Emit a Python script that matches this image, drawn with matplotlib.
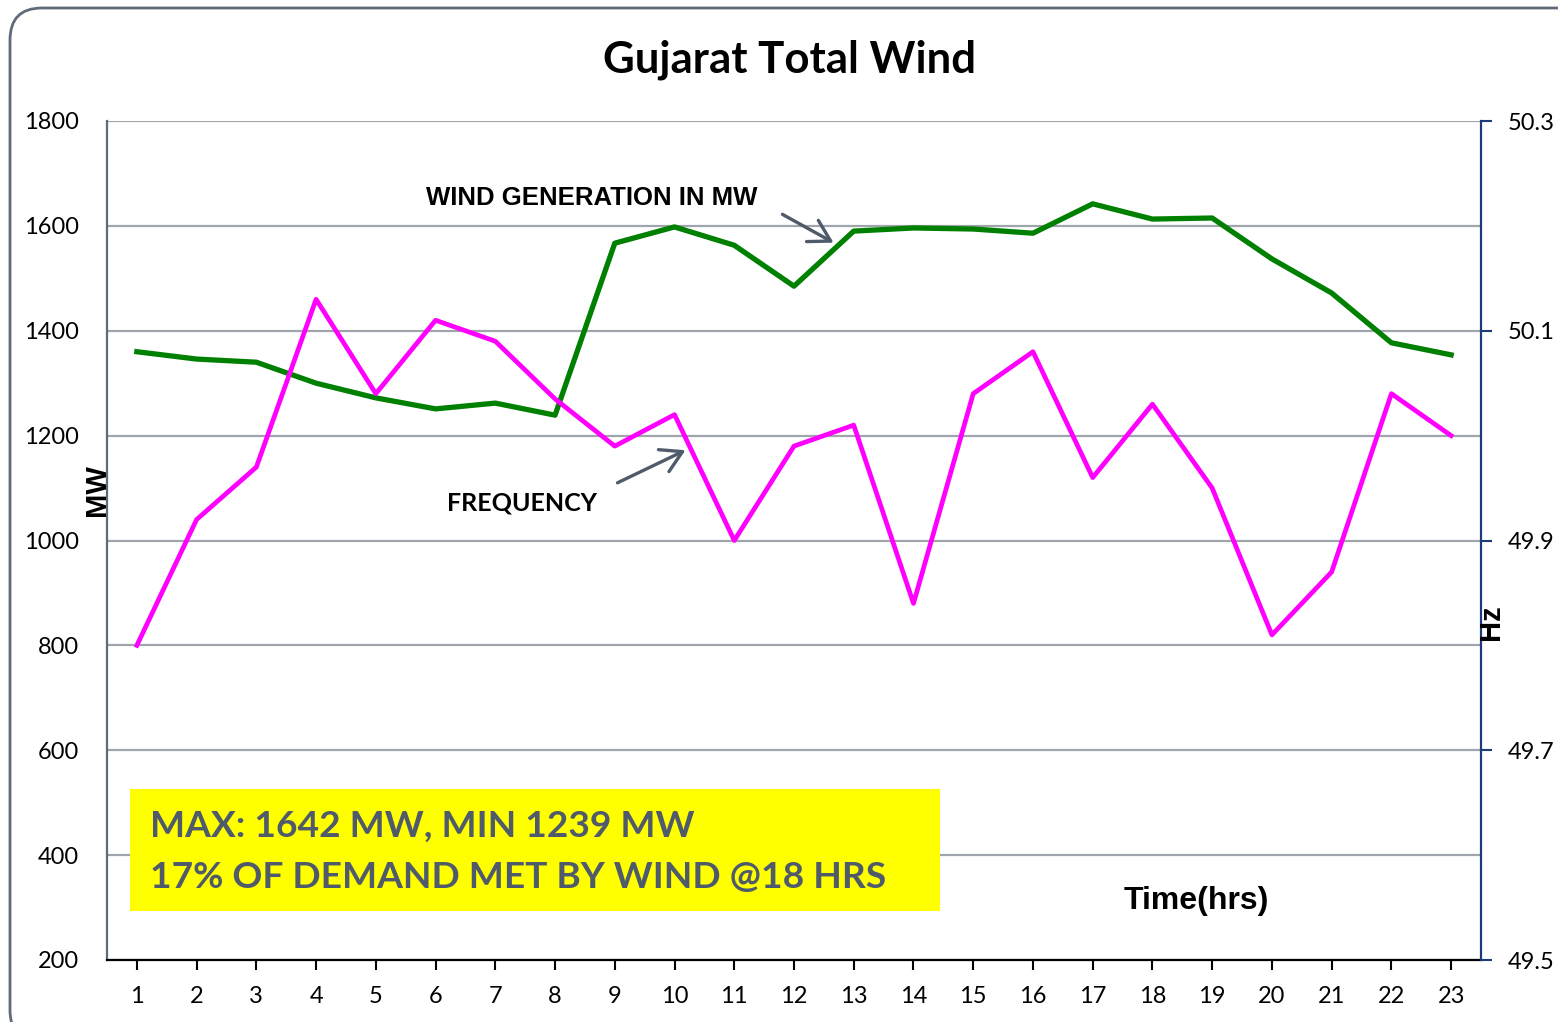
import matplotlib
matplotlib.use('Agg')
import matplotlib.pyplot as plt
from matplotlib.patches import FancyBboxPatch, Rectangle, FancyArrowPatch

# hourly values
hours = list(range(1, 24))
wind_mw = [1360, 1346, 1340, 1300, 1272, 1251, 1262, 1239, 1567, 1598, 1563, 1485,
           1590, 1596, 1594, 1586, 1642, 1613, 1615, 1537, 1472, 1377, 1354]
freq_hz = [49.80, 49.92, 49.97, 50.13, 50.04, 50.11, 50.09, 50.035, 49.99, 50.02, 49.90, 49.99,
           50.01, 49.84, 50.04, 50.08, 49.96, 50.03, 49.95, 49.81, 49.87, 50.04, 50.00]
mw_ticks = [200, 400, 600, 800, 1000, 1200, 1400, 1600, 1800]
hz_ticks = [49.5, 49.7, 49.9, 50.1, 50.3]

W, H = 1558, 1022
fig = plt.figure(figsize=(W / 100, H / 100), dpi=100)

# rounded frame around the slide
frame = FancyBboxPatch((10, -20), 1600, 1034, boxstyle="round,pad=0,rounding_size=32",
                       transform=None, fill=False, edgecolor='#5f6b7a', linewidth=2)
fig.patches.append(frame)

ax = fig.add_axes([107 / W, 1 - 960 / H, (1481 - 107) / W, (960 - 121) / H])
ax.set_xlim(0.5, 23.5)
ax.set_ylim(200, 1800)
ax.set_yticks(mw_ticks)
ax.set_xticks(hours)
ax.grid(axis='y', color='#a0a5ad', linewidth=1.6)
ax.set_axisbelow(True)
for s in ['top', 'right']:
    ax.spines[s].set_visible(False)
ax.spines['left'].set_color('#5f6b7a')
ax.spines['left'].set_linewidth(1.6)
ax.spines['bottom'].set_color('black')
ax.spines['bottom'].set_linewidth(1.6)
ax.tick_params(axis='y', length=0, pad=20, labelsize=17)
ax.tick_params(axis='x', length=7, width=1.5, direction='out', pad=12, labelsize=17)
for lab in ax.get_xticklabels() + ax.get_yticklabels():
    lab.set_fontfamily('Lato')

ax.plot(hours, wind_mw, color='#008000', linewidth=3.8, solid_joinstyle='round', zorder=3)

ax2 = ax.twinx()
ax2.set_ylim(49.5, 50.3)
ax2.set_yticks(hz_ticks)
ax2.set_yticklabels(['49.5', '49.7', '49.9', '50.1', '50.3'])
for s in ['top', 'left', 'bottom']:
    ax2.spines[s].set_visible(False)
ax2.spines['right'].set_color('#1f3a7a')
ax2.spines['right'].set_linewidth(1.6)
ax2.tick_params(axis='y', length=8, width=1.5, color='#1f3a7a', pad=11, labelsize=17)
for lab in ax2.get_yticklabels():
    lab.set_fontfamily('Lato')
ax2.plot(hours, freq_hz, color='#ff00ff', linewidth=3.4, solid_joinstyle='round', zorder=3)

# title and axis labels
fig.text(789 / W, 1 - 60 / H, 'Gujarat Total Wind', ha='center', va='center',
         fontsize=31.5, fontweight='bold', family='Lato')
fig.text(97 / W, 1 - 490 / H, 'MW', rotation=90, ha='center', va='center',
         fontsize=21, fontweight='bold', family='Liberation Sans')
fig.text(1491 / W, 1 - 622 / H, 'Hz', rotation=90, ha='center', va='center',
         fontsize=21, fontweight='bold', family='Liberation Sans')
fig.text(1196 / W, 1 - 901 / H, 'Time(hrs)', ha='center', va='center',
         fontsize=23, fontweight='bold', family='Liberation Sans')

# series labels with arrows
fig.text(592 / W, 1 - 198 / H, 'WIND GENERATION IN MW', ha='center', va='center',
         fontsize=18.5, family='Liberation Sans', fontweight='bold', color='black')
fig.text(522 / W, 1 - 503 / H, 'FREQUENCY', ha='center', va='center',
         fontsize=18, family='Lato', fontweight='bold', color='black')
arrow_kw = dict(arrowstyle='->,head_length=0.6,head_width=0.35', color='#4f5b6b', lw=2.4,
                mutation_scale=25, transform=fig.transFigure)
fig.add_artist(FancyArrowPatch((780 / W, 1 - 213 / H), (836 / W, 1 - 244 / H), **arrow_kw))
fig.add_artist(FancyArrowPatch((615 / W, 1 - 484 / H), (688 / W, 1 - 449 / H), **arrow_kw))

# yellow note box
fig.patches.append(Rectangle((130 / W, 1 - 911 / H), (940 - 130) / W, (911 - 789) / H,
                             transform=fig.transFigure, facecolor='#ffff00', edgecolor='none', zorder=5))
fig.text(150 / W, 1 - 826 / H, 'MAX: 1642 MW, MIN 1239 MW', ha='left', va='center',
         fontsize=26.7, fontweight='bold', family='Lato', color='#4f5b6b', zorder=6)
fig.text(150 / W, 1 - 877 / H, '17% OF DEMAND MET BY WIND @18 HRS', ha='left', va='center',
         fontsize=26.7, fontweight='bold', family='Lato', color='#4f5b6b', zorder=6)

fig.savefig('out.png', dpi=100)
